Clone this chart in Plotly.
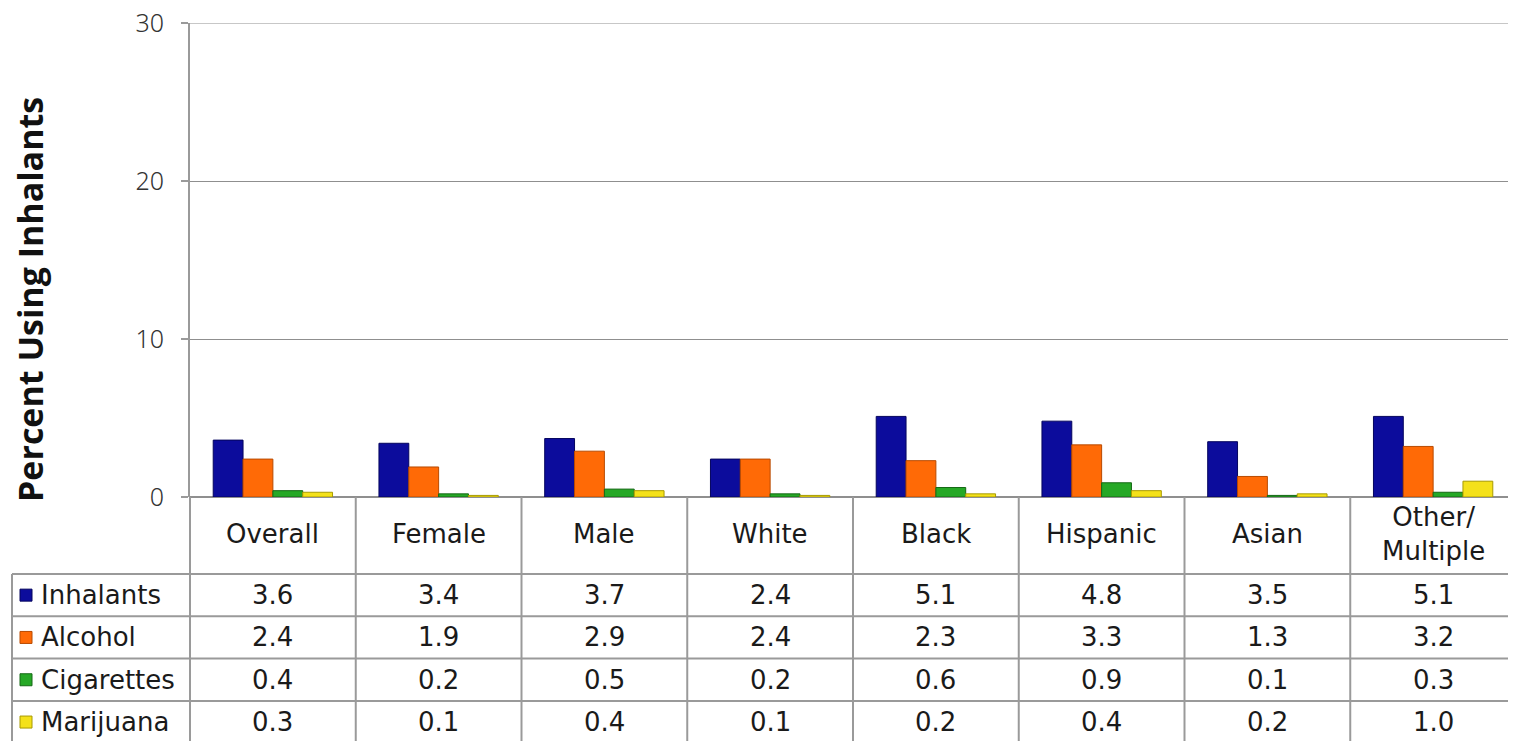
import plotly.graph_objects as go


CATEGORIES = ["Overall", "Female", "Male", "White", "Black", "Hispanic", "Asian", "Other/Multiple"]
HEADER_LABELS = ["Overall", "Female", "Male", "White", "Black", "Hispanic", "Asian", "Other/<br>Multiple"]

SERIES = ["Inhalants", "Alcohol", "Cigarettes", "Marijuana"]
INHALANTS = [3.6, 3.4, 3.7, 2.4, 5.1, 4.8, 3.5, 5.1]
ALCOHOL = [2.4, 1.9, 2.9, 2.4, 2.3, 3.3, 1.3, 3.2]
CIGARETTES = [0.4, 0.2, 0.5, 0.2, 0.6, 0.9, 0.1, 0.3]
MARIJUANA = [0.3, 0.1, 0.4, 0.1, 0.2, 0.4, 0.2, 1.0]

Y_TICKS = [0, 10, 20, 30]

COLORS = ["#0C0C9C", "#FF6A06", "#26A826", "#F4E11A"]
EDGES = ["#05055E", "#B84A00", "#146814", "#A89A00"]

# the page puts the plot 8px in from the window corner
OFF = 8
W, H = 1516 - OFF, 741 - OFF
# plot area in window pixels: x 190..1516, y 23..497
PLOT_L, PLOT_T, PLOT_B = 190, 23, 497
LEFT, TOP = PLOT_L - OFF, PLOT_T - OFF
BOTTOM = H - (PLOT_B - OFF)
PLOT_W = W - LEFT
PLOT_H = H - TOP - BOTTOM

TABLE_LEFT = 12
HEADER_H = 77
ROW_H = 42.3
FONT = dict(family="DejaVu Sans", size=26, color="#1A1A1A")
GRID = "#8F8F8F"


def py(p):
    # window pixel row -> paper y
    return (PLOT_B - p) / PLOT_H


def px(p):
    # window pixel column -> paper x
    return (p - PLOT_L) / PLOT_W


fig = go.Figure()

for name, vals, col, edge in zip(SERIES, [INHALANTS, ALCOHOL, CIGARETTES, MARIJUANA], COLORS, EDGES):
    fig.add_trace(go.Bar(
        x=CATEGORIES,
        y=vals,
        name=name,
        marker=dict(color=col, line=dict(color=edge, width=1)),
        showlegend=False,
        hoverinfo="x+y+name"
    ))

LINE = dict(color="#9A9A9A", width=2)
row_tops = [PLOT_B + HEADER_H + i * ROW_H for i in range(len(SERIES) + 1)]

shapes = []
# top gridline (plotly drops the gridline sitting on the range end)
shapes.append(dict(type="line", xref="paper", yref="y", x0=0, x1=1,
                   y0=Y_TICKS[-1], y1=Y_TICKS[-1], line=dict(color=GRID, width=1)))
# vertical lines between categories (header + body)
for i in range(1, len(CATEGORIES)):
    shapes.append(dict(type="line", xref="paper", yref="paper",
                       x0=i / len(CATEGORIES), x1=i / len(CATEGORIES),
                       y0=py(PLOT_B), y1=py(745), line=LINE))
# y-axis continues down as table separator
shapes.append(dict(type="line", xref="paper", yref="paper", x0=0, x1=0,
                   y0=py(PLOT_B), y1=py(745), line=LINE))
# left border of the row-label column
shapes.append(dict(type="line", xref="paper", yref="paper", x0=px(TABLE_LEFT), x1=px(TABLE_LEFT),
                   y0=py(row_tops[0]), y1=py(745), line=LINE))
# horizontal row lines
for t in row_tops:
    shapes.append(dict(type="line", xref="paper", yref="paper", x0=px(TABLE_LEFT), x1=1,
                       y0=py(t), y1=py(t), line=LINE))

annotations = []
# header labels
for cat, lab in zip(CATEGORIES, HEADER_LABELS):
    annotations.append(dict(x=cat, xref="x", y=py(PLOT_B + HEADER_H / 2 - 2), yref="paper",
                            text=lab, showarrow=False, xanchor="center", yanchor="middle",
                            font=FONT))

# body rows
for r, (name, vals, col, edge) in enumerate(zip(SERIES, [INHALANTS, ALCOHOL, CIGARETTES, MARIJUANA], COLORS, EDGES)):
    yc = row_tops[r] + ROW_H / 2
    shapes.append(dict(type="rect", xref="paper", yref="paper",
                       x0=px(20), x1=px(32), y0=py(yc - 6), y1=py(yc + 6),
                       fillcolor=col, line=dict(color=edge, width=1)))
    annotations.append(dict(x=px(39), xref="paper", y=py(yc), yref="paper",
                            text=name, showarrow=False, xanchor="left", yanchor="middle",
                            font=FONT))
    for cat, v in zip(CATEGORIES, vals):
        annotations.append(dict(x=cat, xref="x", y=py(yc), yref="paper",
                                text=f"{v:.1f}", showarrow=False, xanchor="center", yanchor="middle",
                                font=FONT))

# y-axis title
annotations.append(dict(x=px(30), xref="paper", y=py(300), yref="paper",
                        text="<b>Percent Using Inhalants</b>", textangle=-90, showarrow=False,
                        xanchor="center", yanchor="middle", borderpad=0,
                        font=dict(family="Open Sans", size=34, color="#111111")))

fig.update_layout(
    width=W,
    height=H,
    margin=dict(l=LEFT, r=0, t=TOP, b=BOTTOM, autoexpand=False),
    paper_bgcolor="white",
    plot_bgcolor="white",
    barmode="group",
    bargap=0.28,
    bargroupgap=0,
    shapes=shapes,
    annotations=annotations,
    xaxis=dict(
        showticklabels=False,
        showgrid=False,
        zeroline=False,
        showline=False,
        range=[-0.5, len(CATEGORIES) - 0.5]
    ),
    yaxis=dict(
        range=[Y_TICKS[0], Y_TICKS[-1]],
        tickvals=Y_TICKS,
        showgrid=True,
        gridcolor=GRID,
        gridwidth=1,
        zeroline=True,
        zerolinecolor=GRID,
        zerolinewidth=2,
        showline=True,
        linecolor="#9A9A9A",
        linewidth=2,
        ticks="outside",
        ticklen=7,
        tickcolor="#9A9A9A",
        tickwidth=2,
        ticklabelstandoff=12,
        ticklabeloverflow="allow",
        tickfont=dict(family="Noto Sans", size=25, color="#333333", weight=300)
    )
)

fig.write_html("out.html")
